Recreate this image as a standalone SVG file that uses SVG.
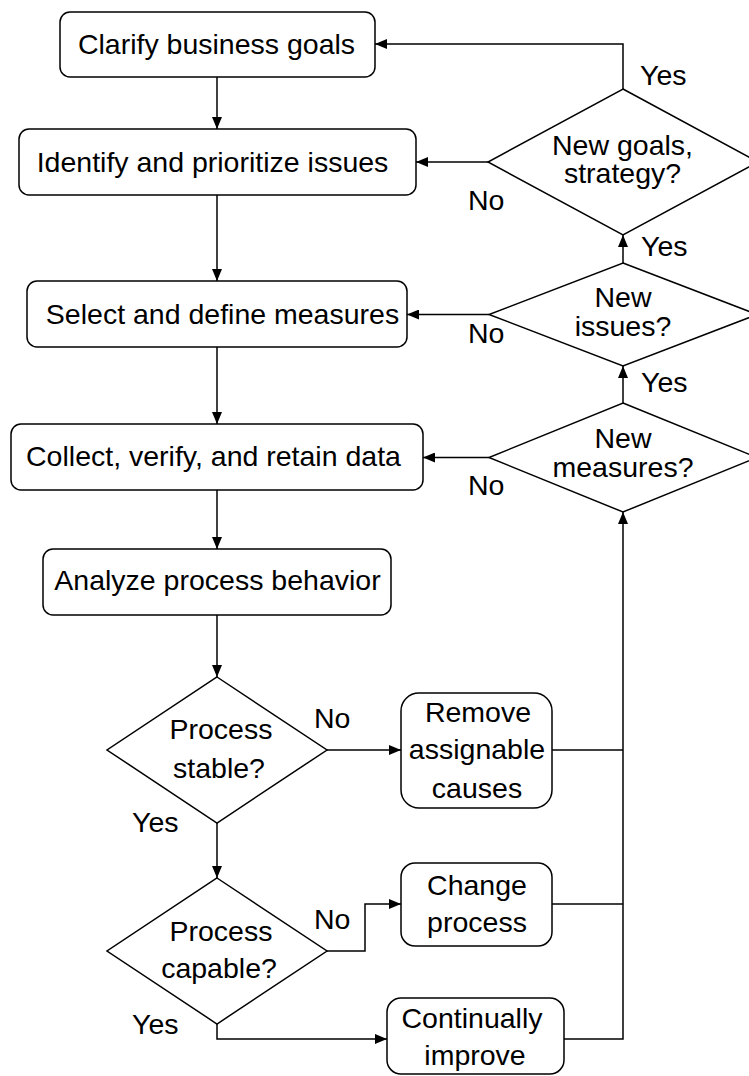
<svg xmlns="http://www.w3.org/2000/svg" width="749" height="1076" viewBox="0 0 749 1076">
<style>
.box{fill:#fff;stroke:#000;stroke-width:1.5}
.dia{fill:#fff;stroke:#000;stroke-width:1.5}
.ln{fill:none;stroke:#000;stroke-width:1.5}
text{font-family:"Liberation Sans",Arial,sans-serif;font-size:28.5px;fill:#000}
.c{text-anchor:middle}
</style>
<defs>
<marker id="arr" markerUnits="userSpaceOnUse" markerWidth="12" markerHeight="10" refX="12" refY="5" orient="auto">
<path d="M0,0 L12,5 L0,10 z" fill="#000"/>
</marker>
</defs>
<rect width="749" height="1076" fill="#fff"/>
<g id="connectors">
<path class="ln" d="M217,77 V129" marker-end="url(#arr)"/>
<path class="ln" d="M217,195 V281" marker-end="url(#arr)"/>
<path class="ln" d="M217,347 V424" marker-end="url(#arr)"/>
<path class="ln" d="M217,490 V549" marker-end="url(#arr)"/>
<path class="ln" d="M217,615 V677" marker-end="url(#arr)"/>
<path class="ln" d="M217,823 V878" marker-end="url(#arr)"/>
<path class="ln" d="M327,750 H401" marker-end="url(#arr)"/>
<path class="ln" d="M327,951 H365 V904 H401" marker-end="url(#arr)"/>
<path class="ln" d="M217,1024 V1039 H387" marker-end="url(#arr)"/>
<path class="ln" d="M552,750 H623"/>
<path class="ln" d="M552,904 H623"/>
<path class="ln" d="M564,1039 H623 V512" marker-end="url(#arr)"/>
<path class="ln" d="M623,403 V366" marker-end="url(#arr)"/>
<path class="ln" d="M623,263 V235" marker-end="url(#arr)"/>
<path class="ln" d="M623,89 V44 H375" marker-end="url(#arr)"/>
<path class="ln" d="M488,162 H416" marker-end="url(#arr)"/>
<path class="ln" d="M489,314.5 H407" marker-end="url(#arr)"/>
<path class="ln" d="M489,457.5 H423" marker-end="url(#arr)"/>
</g>
<g id="labels">
<text x="640" y="85">Yes</text>
<text x="641" y="256">Yes</text>
<text x="641" y="392">Yes</text>
<text x="468" y="210">No</text>
<text x="468" y="343">No</text>
<text x="468" y="495">No</text>
<text x="314" y="728">No</text>
<text x="132" y="832">Yes</text>
<text x="314" y="929">No</text>
<text x="132" y="1034">Yes</text>
</g>
<g id="n1"><rect class="box" x="60" y="12" width="315" height="65" rx="10"/><text class="c" x="216.5" y="54">Clarify business goals</text></g>
<g id="n2"><rect class="box" x="19" y="129" width="397" height="66" rx="10"/><text class="c" x="212.5" y="172">Identify and prioritize issues</text></g>
<g id="n3"><rect class="box" x="27" y="281" width="380" height="66" rx="10"/><text class="c" x="222.5" y="324">Select and define measures</text></g>
<g id="n4"><rect class="box" x="11" y="424" width="412" height="66" rx="10"/><text class="c" x="213.5" y="466">Collect, verify, and retain data</text></g>
<g id="n5"><rect class="box" x="43" y="549" width="348" height="66" rx="10"/><text class="c" x="217.5" y="590">Analyze process behavior</text></g>
<g id="d1"><polygon class="dia" points="623,89 758,162 623,235 488,162"/><text class="c" x="622.5" y="155">New goals,</text><text class="c" x="622.5" y="183">strategy?</text></g>
<g id="d2"><polygon class="dia" points="623,263 757,314.5 623,366 489,314.5"/><text class="c" x="623" y="307">New</text><text class="c" x="623" y="336">issues?</text></g>
<g id="d3"><polygon class="dia" points="623,403 757,457.5 623,512 489,457.5"/><text class="c" x="623" y="448">New</text><text class="c" x="623" y="477">measures?</text></g>
<g id="d4"><polygon class="dia" points="217,677 327,750 217,823 107,750"/><text class="c" x="221" y="739">Process</text><text class="c" x="219" y="778">stable?</text></g>
<g id="d5"><polygon class="dia" points="217,878 327,951 217,1024 107,951"/><text class="c" x="221" y="941">Process</text><text class="c" x="219" y="978">capable?</text></g>
<g id="n6"><rect class="box" x="401" y="693" width="151" height="115" rx="18"/><text class="c" x="478" y="722">Remove</text><text class="c" x="477" y="759">assignable</text><text class="c" x="477" y="798">causes</text></g>
<g id="n7"><rect class="box" x="401" y="863" width="151" height="83" rx="14"/><text class="c" x="477" y="895">Change</text><text class="c" x="477" y="932">process</text></g>
<g id="n8"><rect class="box" x="387" y="998" width="177" height="76" rx="14"/><text class="c" x="472" y="1028">Continually</text><text class="c" x="475" y="1065">improve</text></g>
</svg>
